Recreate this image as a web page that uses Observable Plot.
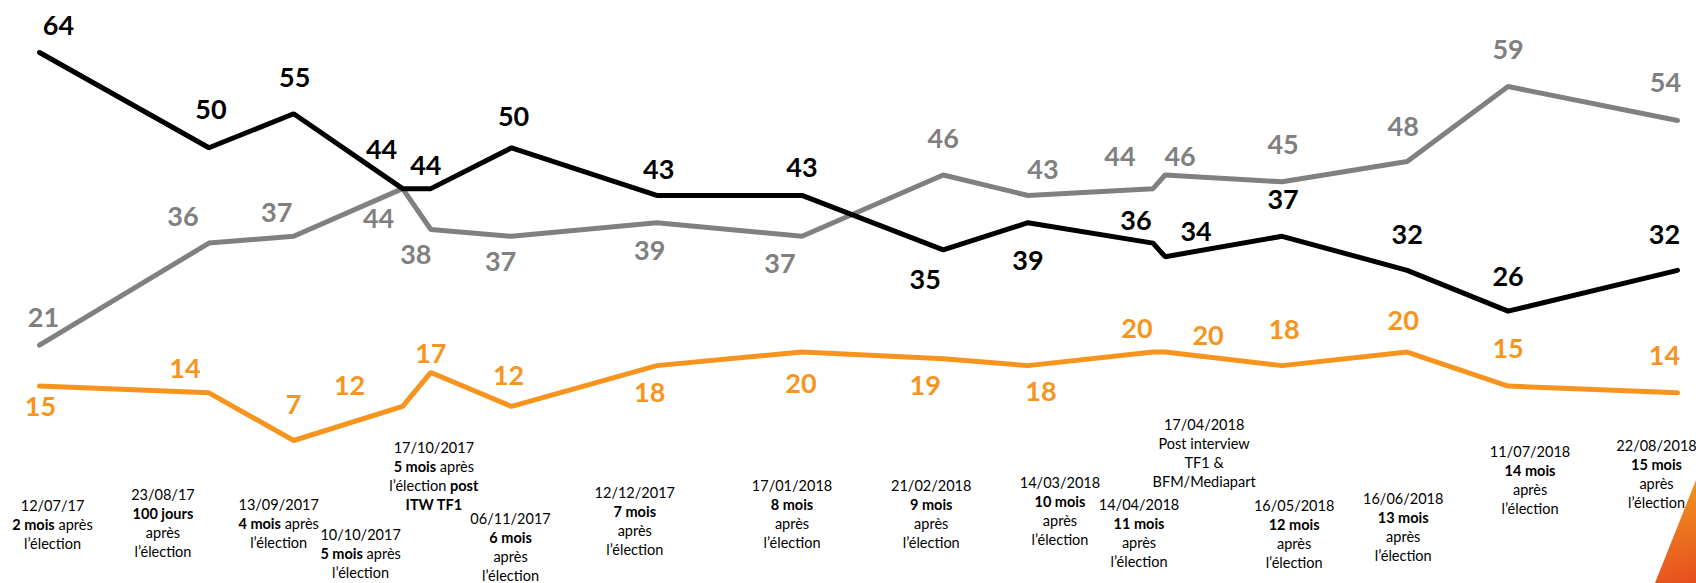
<!DOCTYPE html>
<html><head><meta charset="utf-8">
<script src="https://cdn.jsdelivr.net/npm/d3@7"></script>
<script src="https://cdn.jsdelivr.net/npm/@observablehq/plot@0.6"></script>
<style>
body{margin:0;background:#fff;}
#wrap{position:relative;width:1696px;height:583px;overflow:hidden;}
#corner{position:absolute;left:1655px;top:480px;width:41px;height:103px;background:linear-gradient(165deg,#F39A1E,#E64E1E);clip-path:polygon(100% 0,100% 100%,0 100%);}
</style></head><body><div id="wrap"><div id="corner"></div></div>
<script>
// ---- data ----
const dates = ["2017-07-12","2017-08-23","2017-09-13","2017-10-10","2017-10-17","2017-11-06","2017-12-12","2018-01-17","2018-02-21","2018-03-14","2018-04-14","2018-04-17","2018-05-16","2018-06-16","2018-07-11","2018-08-22"];
const tickLabels = [
  "12/07/17\n*2 mois* après\nl’élection",
  "23/08/17\n*100 jours*\naprès\nl’élection",
  "13/09/2017\n*4 mois* après\nl’élection",
  "10/10/2017\n*5 mois* après\nl’élection",
  "17/10/2017\n*5 mois* après\nl’élection *post*\n*ITW TF1*",
  "06/11/2017\n*6 mois*\naprès\nl’élection",
  "12/12/2017\n*7 mois*\naprès\nl’élection",
  "17/01/2018\n*8 mois*\naprès\nl’élection",
  "21/02/2018\n*9 mois*\naprès\nl’élection",
  "14/03/2018\n*10 mois*\naprès\nl’élection",
  "14/04/2018\n*11 mois*\naprès\nl’élection",
  "17/04/2018\nPost interview\nTF1 &\nBFM/Mediapart",
  "16/05/2018\n*12 mois*\naprès\nl’élection",
  "16/06/2018\n*13 mois*\naprès\nl’élection",
  "11/07/2018\n*14 mois*\naprès\nl’élection",
  "22/08/2018\n*15 mois*\naprès\nl’élection"
];
const serieNoire  = [64,50,55,44,44,50,43,43,35,39,36,34,37,32,26,32];
const serieGrise  = [21,36,37,44,38,37,39,37,46,43,44,46,45,48,59,54];
const serieOrange = [15,14,7,12,17,12,18,20,19,18,20,20,18,20,15,14];

// ---- layout nudges (label offsets, px) ----
const nudgeNoire  = [[19,-26],[2,-37],[1,-35],[-21,-38],[-5,-22],[2,-30],[2,-25],[0,-27],[-18,30],[0,39],[-17,-22],[31,-24],[1,-36],[0,-35],[0,-34],[-13,-35]];
const nudgeGrise  = [[4,-27],[-26,-26],[-17,-23],[-24,31],[-15,26],[-11,26],[-7,29],[-22,28],[0,-36],[15,-25],[-33,-31],[15,-18],[1,-36],[-4,-34],[0,-36],[-12,-37]];
const nudgeOrange = [[1,21],[-24,-23],[0,-35],[-53,-20],[0,-18],[-3,-30],[-7,28],[-1,32],[-18,28],[13,27],[-16,-23],[43,-16],[2,-35],[-4,-31],[0,-37],[-13,-36]];
const tickNudge = [[13,57],[-46,46],[-15,56],[-42,86],[3,-1],[-1,70],[-22,44],[-10,37],[-12,37],[32,34],[-14,56],[39,-24],[12,57],[-4,50],[22,3],[-21,-3]];

const parse = d3.utcParse("%Y-%m-%d");
const rows = dates.map((d, i) => ({date: parse(d), i}));
const series = [
  {values: serieGrise, color: "#808080", nudge: nudgeGrise},
  {values: serieNoire, color: "#000000", nudge: nudgeNoire},
  {values: serieOrange, color: "#F7941E", nudge: nudgeOrange}
];

const marks = [];
for (const s of series) {
  const data = rows.map(r => ({date: r.date, v: s.values[r.i]}));
  marks.push(Plot.line(data, {x: "date", y: "v", stroke: s.color, strokeWidth: 5, strokeLinejoin: "miter", strokeLinecap: "round"}));
}
for (const s of series) {
  const data = rows.map(r => ({date: r.date, v: s.values[r.i]}));
  data.forEach((d, i) => marks.push(Plot.text([d], {
    x: "date", y: "v", text: d => String(d.v), fill: s.color,
    fontSize: 27, fontWeight: "bold", dx: s.nudge[i][0], dy: s.nudge[i][1]
  })));
}
rows.forEach((r, i) => marks.push(Plot.text([r], {
  x: "date", frameAnchor: "bottom", text: () => tickLabels[i], lineAnchor: "top",
  fontSize: 14.5, lineHeight: 1.31, fill: "#000", dx: tickNudge[i][0], dy: tickNudge[i][1]
})));

const svg = Plot.plot({
  width: 1696, height: 583,
  marginTop: 52, marginBottom: 143, marginLeft: 39, marginRight: 19,
  x: {type: "utc", domain: [parse(dates[0]), parse(dates[dates.length - 1])], axis: null},
  y: {domain: [7, 64], axis: null},
  style: {fontFamily: "Lato, 'Open Sans', sans-serif", background: "transparent", overflow: "visible"},
  marks
});

// bold runs marked with *...*
svg.querySelectorAll("text, tspan").forEach(el => {
  if (el.children.length === 0 && el.textContent.includes("*")) {
    const parts = el.textContent.split("*");
    el.textContent = "";
    parts.forEach((p, k) => {
      if (!p) return;
      const t = document.createElementNS("http://www.w3.org/2000/svg", "tspan");
      t.textContent = p;
      if (k % 2 === 1) t.setAttribute("font-weight", "bold");
      el.appendChild(t);
    });
  }
});
svg.style.position = "absolute";
svg.style.left = "0";
svg.style.top = "0";
document.getElementById("wrap").prepend(svg);
</script>
</body></html>
